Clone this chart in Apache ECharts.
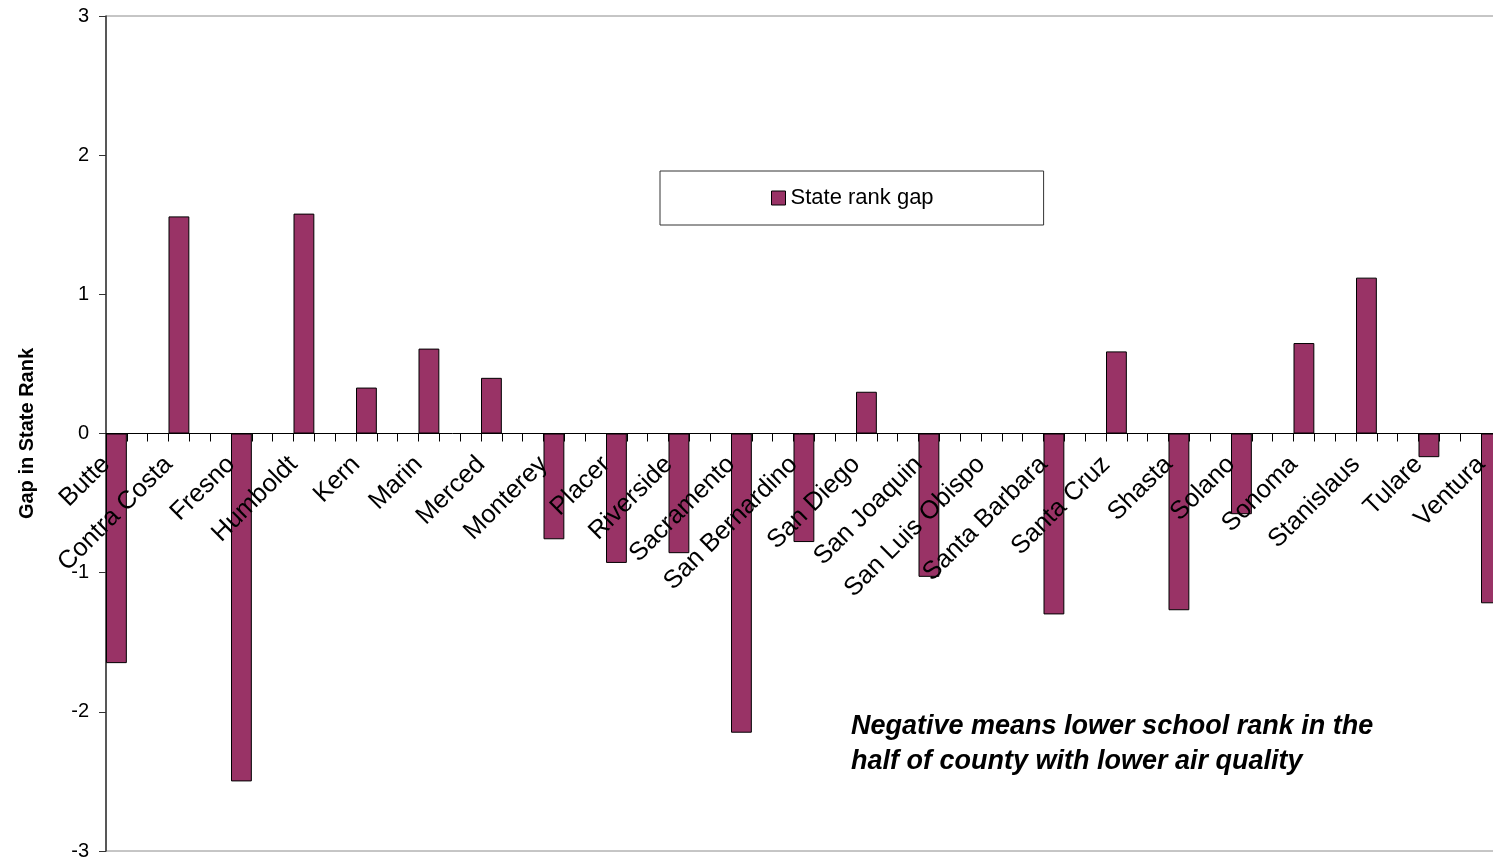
<!DOCTYPE html>
<html>
<head>
<meta charset="utf-8">
<title>State rank gap by county</title>
<script src="https://cdn.jsdelivr.net/npm/echarts@6/dist/echarts.min.js"></script>
<style>
  html, body { margin: 0; padding: 0; background: #ffffff; }
  #chart { width: 1493px; height: 861px; }
</style>
</head>
<body>
<div id="chart"></div>
<script>
// County names along the category axis
const counties = [
  'Butte', 'Contra Costa', 'Fresno', 'Humboldt', 'Kern', 'Marin', 'Merced',
  'Monterey', 'Placer', 'Riverside', 'Sacramento', 'San Bernardino', 'San Diego',
  'San Joaquin', 'San Luis Obispo', 'Santa Barbara', 'Santa Cruz', 'Shasta',
  'Solano', 'Sonoma', 'Stanislaus', 'Tulare', 'Ventura'
];

// Gap in state school rank between the two halves of each county
const stateRankGap = [
  -1.65, 1.56, -2.50, 1.58, 0.33, 0.61, 0.40,
  -0.76, -0.93, -0.86, -2.15, -0.78, 0.30,
  -1.03, 0, -1.30, 0.59, -1.27,
  -0.58, 0.65, 1.12, -0.17, -1.22
];

// Value-axis ticks
const yTicks = [-3, -2, -1, 0, 1, 2, 3];

const FONT = '"Liberation Sans", Arial, sans-serif';
const BAR_COLOR = '#993366';

// Plot area: the last band runs past the right edge of the canvas
const PLOT_LEFT = 106;
const PLOT_TOP = 16;
const PLOT_BOTTOM = 10;
const PLOT_RIGHT = -50.5;
const CANVAS_H = 861;
// distance from the canvas bottom to the zero line
const ZERO_FROM_BOTTOM = CANVAS_H - (PLOT_TOP + (CANVAS_H - PLOT_TOP - PLOT_BOTTOM) *
  (yTicks[yTicks.length - 1] / (yTicks[yTicks.length - 1] - yTicks[0])));

const chart = echarts.init(document.getElementById('chart'), null, { renderer: 'canvas' });

chart.setOption({
  animation: false,
  backgroundColor: '#ffffff',
  textStyle: { fontFamily: FONT, color: '#000' },
  grid: [
    {
      // main plot area with the bars
      left: PLOT_LEFT, top: PLOT_TOP, bottom: PLOT_BOTTOM, right: PLOT_RIGHT,
      show: true, borderColor: '#8c8c8c', borderWidth: 1,
      containLabel: false, outerBoundsMode: 'none'
    },
    {
      // upper half, whose bottom edge is the zero line carrying the county axis
      left: PLOT_LEFT, top: PLOT_TOP, bottom: ZERO_FROM_BOTTOM, right: PLOT_RIGHT,
      show: false, containLabel: false, outerBoundsMode: 'none'
    }
  ],
  legend: {
    data: ['State rank gap'],
    left: 660,
    top: 171,
    padding: [16, 110, 16, 111],
    backgroundColor: '#ffffff',
    borderColor: '#333333',
    borderWidth: 1,
    borderRadius: 0,
    itemWidth: 14,
    itemHeight: 14,
    icon: 'rect',
    itemStyle: { borderColor: '#000', borderWidth: 1 },
    textStyle: { fontFamily: FONT, fontSize: 22, color: '#000' }
  },
  xAxis: [
    {
      // band axis that places the bars
      gridIndex: 0,
      type: 'category',
      data: counties,
      boundaryGap: true,
      axisLine: { show: false, onZero: false },
      axisTick: { show: false },
      axisLabel: { show: false },
      splitLine: { show: false }
    },
    {
      // county boundary axis on the zero line: line, tick marks and names, drawn above the bars
      gridIndex: 1,
      type: 'value',
      min: 0,
      max: counties.length,
      interval: 1,
      position: 'bottom',
      z: 6,
      axisLine: { show: true, onZero: false, lineStyle: { color: '#000', width: 1 } },
      axisTick: { show: true, inside: false, length: 8, lineStyle: { color: '#000' } },
      minorTick: { show: true, splitNumber: 3, length: 8, lineStyle: { color: '#000' } },
      splitLine: { show: false },
      minorSplitLine: { show: false },
      axisLabel: {
        show: true,
        rotate: 45,
        margin: 27,
        fontFamily: FONT,
        fontSize: 25.5,
        color: '#000',
        hideOverlap: false,
        showMinLabel: true,
        showMaxLabel: true,
        formatter: function (v) {
          const name = counties[Math.round(v)];
          return name === undefined ? '' : name;
        }
      }
    }
  ],
  yAxis: [
    {
      gridIndex: 0,
      type: 'value',
      min: yTicks[0],
      max: yTicks[yTicks.length - 1],
      interval: 1,
      name: 'Gap in State Rank',
      nameLocation: 'middle',
      nameGap: 69,
      nameRotate: 90,
      nameTextStyle: { fontFamily: FONT, fontSize: 20, fontWeight: 'bold', color: '#000' },
      axisLine: { show: true, onZero: false, lineStyle: { color: '#333', width: 1.5 } },
      axisTick: { show: true, inside: false, length: 7, lineStyle: { color: '#333' } },
      axisLabel: {
        margin: 17,
        fontFamily: FONT,
        fontSize: 20,
        color: '#000',
        formatter: function (v) { return String(v); }
      },
      splitLine: { show: false }
    },
    {
      gridIndex: 1,
      type: 'value',
      min: 0,
      max: yTicks[yTicks.length - 1],
      show: false
    }
  ],
  series: [
    {
      name: 'State rank gap',
      type: 'bar',
      xAxisIndex: 0,
      yAxisIndex: 0,
      data: stateRankGap,
      barGap: '0%',
      barCategoryGap: '0%',
      itemStyle: { color: BAR_COLOR, borderColor: '#000', borderWidth: 1 },
      z: 2
    },
    // two empty band slots that keep each county's bar in the left third of its band
    { name: 'slot-b', type: 'bar', xAxisIndex: 0, yAxisIndex: 0, data: [], barGap: '0%', barCategoryGap: '0%' },
    { name: 'slot-c', type: 'bar', xAxisIndex: 0, yAxisIndex: 0, data: [], barGap: '0%', barCategoryGap: '0%' }
  ],
  graphic: [
    {
      type: 'text',
      left: 851,
      top: 709,
      z: 10,
      style: {
        text: 'Negative means lower school rank in the\nhalf of county with lower air quality',
        font: 'italic bold 27px ' + FONT,
        lineHeight: 35,
        fill: '#000'
      }
    }
  ]
});
</script>
</body>
</html>
